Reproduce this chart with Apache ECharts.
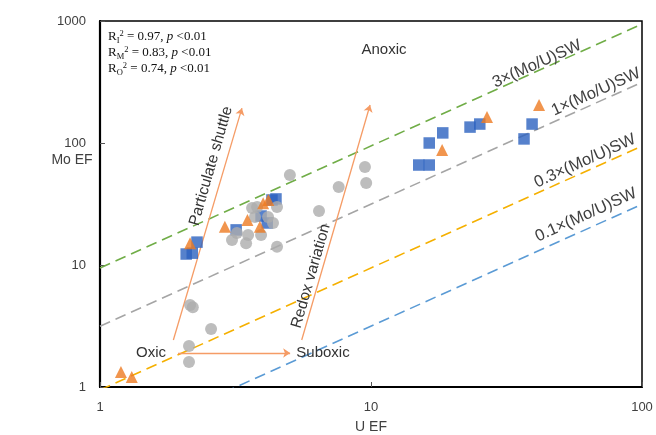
<!DOCTYPE html>
<html>
<head>
<meta charset="utf-8">
<script src="https://cdn.jsdelivr.net/npm/echarts@6/dist/echarts.min.js"></script>
<style>
  html, body { margin: 0; padding: 0; background: #fff; }
  #chart { width: 656px; height: 435px; }
</style>
</head>
<body>
<div id="chart"></div>
<script>
// Enrichment factors (U EF, Mo EF) for the three sample groups
const blueU  = [2.08, 2.19, 2.28, 3.18, 3.93, 4.14, 4.31, 4.46, 15.0, 16.4, 16.4, 18.4, 23.2, 25.2, 36.7, 39.3];
const blueMo = [12.3, 12.5, 15.4, 19.4, 25.2, 22.1, 34.1, 34.8, 66, 66, 100, 121, 135, 143, 108, 143];

const orangeU  = [1.195, 1.31, 2.15, 2.89, 3.5, 3.89, 4.0, 4.18, 18.3, 26.8, 41.7];
const orangeMo = [1.33, 1.21, 15.1, 20.6, 23.4, 20.6, 32, 34.1, 87.7, 163, 205];

const grayU  = [5.02, 9.5, 9.6, 7.6, 6.43, 3.64, 3.8, 4.5, 3.73, 4.17, 4.35, 3.2, 3.07, 3.52, 3.46, 3.93, 4.5, 2.15, 2.2, 2.57, 2.13, 2.13];
const grayMo = [54.7, 63.6, 47, 43.6, 27.7, 29.3, 29.9, 29.9, 24.7, 24.7, 22.1, 18.3, 16.0, 17.6, 15.1, 17.6, 14.1, 4.7, 4.5, 2.99, 2.17, 1.6];

// Seawater Mo/U mass ratio and the multiples drawn as reference lines
const seawaterRatio = 3.15;
const ratioMultiples = [3, 1, 0.3, 0.1];
const ratioLabels = ['3×(Mo/U)SW', '1×(Mo/U)SW', '0.3×(Mo/U)SW', '0.1×(Mo/U)SW'];
const ratioColors = ['#70AD47', '#A5A5A5', '#F5B000', '#5B9BD5'];

// Process arrows, in data coordinates [U EF, Mo EF]
const shuttleArrow = [[1.865, 2.43], [3.34, 193]];
const redoxArrow   = [[5.55, 2.43], [9.92, 205]];
const oxicArrow    = [[1.94, 1.90], [5.03, 1.90]];

// Axis tick values
const xTicks = [1, 10, 100];
const yTicks = [1, 10, 100, 1000];

const zip = (a, b) => a.map((v, i) => [v, b[i]]);

const chart = echarts.init(document.getElementById('chart'));

const sans = 'Liberation Sans, Arial, sans-serif';
const serif = 'Liberation Serif, Times New Roman, serif';
const slopeRad = Math.atan(122 / 271);

const ratioSeries = ratioMultiples.map((m, i) => ({
  type: 'line',
  data: [[xTicks[0], seawaterRatio * m * xTicks[0]], [xTicks[2], seawaterRatio * m * xTicks[2]]],
  symbol: 'none',
  silent: true,
  clip: true,
  z: 1,
  lineStyle: { color: ratioColors[i], width: 1.6, type: [11, 6] }
}));

const arrowSeries = {
  type: 'lines',
  coordinateSystem: 'cartesian2d',
  symbol: ['none', 'arrow'],
  symbolSize: 7,
  silent: true,
  z: 2,
  lineStyle: { color: '#F59C66', width: 1.3, opacity: 1 },
  data: [shuttleArrow, redoxArrow, oxicArrow].map(c => ({ coords: c }))
};

const rStyle = {
  n:   { fontFamily: serif, fontSize: 13, lineHeight: 16, fill: '#111' },
  i:   { fontFamily: serif, fontSize: 13, lineHeight: 16, fontStyle: 'italic', fill: '#111' },
  sub: { fontFamily: serif, fontSize: 8.5, lineHeight: 16, verticalAlign: 'bottom', fill: '#111' },
  sup: { fontFamily: serif, fontSize: 8.5, lineHeight: 16, verticalAlign: 'top', fill: '#111' }
};
const statLine = (g, r2) => `{n|R}{sub|${g}}{sup|2}{n| = ${r2}, }{i|p}{n| <0.01}`;
const statsText = [statLine('I', '0.97'), statLine('M', '0.83'), statLine('O', '0.74')].join('\n');

const labelPos = [[537, 64], [596, 92], [585, 161], [586, 215]];

const axisCommon = {
  type: 'log', logBase: 10,
  axisLine: { lineStyle: { color: '#000', width: 2.2 } },
  axisTick: { inside: true, length: 5, lineStyle: { color: '#555' } },
  splitLine: { show: false },
  axisLabel: { color: '#404040', fontFamily: sans, fontSize: 13, margin: 14, formatter: v => String(v) }
};

chart.setOption({
  animation: false,
  grid: { left: 100, right: 14, top: 21, bottom: 48, show: true, borderColor: '#000', borderWidth: 1.5 },
  xAxis: Object.assign({}, axisCommon, { min: xTicks[0], max: xTicks[2] }),
  yAxis: Object.assign({}, axisCommon, { min: yTicks[0], max: yTicks[3] }),
  series: [
    ...ratioSeries,
    arrowSeries,
    { type: 'scatter', data: zip(blueU, blueMo), symbol: 'rect', symbolSize: 11.5,
      itemStyle: { color: '#2C62BF' }, z: 3 },
    { type: 'scatter', data: zip(grayU, grayMo), symbol: 'circle', symbolSize: 12,
      itemStyle: { color: '#ADADAD' }, z: 4 },
    { type: 'scatter', data: zip(orangeU, orangeMo), symbol: 'triangle', symbolSize: 12,
      itemStyle: { color: '#EE7A22' }, z: 5 }
  ],
  graphic: [
    { type: 'text', left: 108, top: 29, z: 10,
      style: { text: statsText, rich: rStyle, fontFamily: serif, fontSize: 13 } },
    ...ratioLabels.map((t, i) => ({
      type: 'text', x: labelPos[i][0], y: labelPos[i][1], rotation: slopeRad, z: 10,
      style: { text: t, fill: '#404040', font: '16.5px ' + sans, align: 'center', verticalAlign: 'middle' }
    })),
    { type: 'text', x: 384, y: 50, z: 10,
      style: { text: 'Anoxic', fill: '#333', font: '15px ' + sans, align: 'center', verticalAlign: 'middle' } },
    { type: 'text', x: 151, y: 353, z: 10,
      style: { text: 'Oxic', fill: '#333', font: '15px ' + sans, align: 'center', verticalAlign: 'middle' } },
    { type: 'text', x: 323, y: 353, z: 10,
      style: { text: 'Suboxic', fill: '#333', font: '15px ' + sans, align: 'center', verticalAlign: 'middle' } },
    { type: 'text', x: 211, y: 166, rotation: 74 * Math.PI / 180, z: 10,
      style: { text: 'Particulate shuttle', fill: '#333', font: '15.5px ' + sans, align: 'center', verticalAlign: 'middle' } },
    { type: 'text', x: 311, y: 276, rotation: 74 * Math.PI / 180, z: 10,
      style: { text: 'Redox variation', fill: '#333', font: '15.5px ' + sans, align: 'center', verticalAlign: 'middle' } },
    { type: 'text', x: 72, y: 160, z: 10,
      style: { text: 'Mo EF', fill: '#404040', font: '14px ' + sans, align: 'center', verticalAlign: 'middle' } },
    { type: 'text', x: 371, y: 427, z: 10,
      style: { text: 'U EF', fill: '#404040', font: '14px ' + sans, align: 'center', verticalAlign: 'middle' } }
  ]
});
</script>
</body>
</html>
